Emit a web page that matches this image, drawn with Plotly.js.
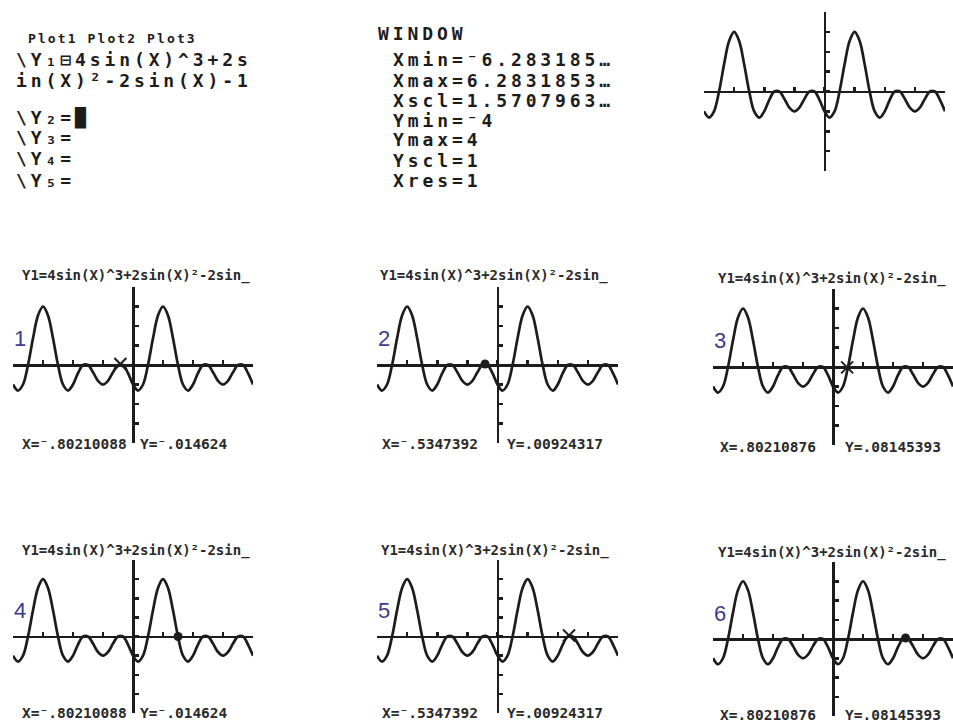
<!DOCTYPE html>
<html>
<head>
<meta charset="utf-8">
<script src="https://cdn.plot.ly/plotly-3.0.1.min.js"></script>
<style>
html,body{margin:0;padding:0;background:#fff;}
#chart{width:953px;height:725px;}
text.annotation-text[style*="font-size: 18px"]{letter-spacing:3.9px;}
text.annotation-text[style*="font-size: 13px"]{letter-spacing:2.1px;}
</style>
</head>
<body>
<div id="chart"></div>
<script>
// ---- data ----
const curveX = [-6.283,-6.021,-5.760,-5.498,-5.236,-4.974,-4.712,-4.451,-4.189,-3.927,-3.665,-3.403,-3.142,-2.880,-2.618,-2.356,-2.094,-1.833,-1.571,-1.309,-1.047,-0.785,-0.524,-0.262,
  0,0.262,0.524,0.785,1.047,1.309,1.571,1.833,2.094,2.356,2.618,2.880,3.142,3.403,3.665,3.927,4.189,4.451,4.712,4.974,5.236,5.498,5.760,6.021,6.283];
const curveY = [-1,-1.31,-1,0,1.37,2.54,3,2.54,1.37,0,-1,-1.31,-1,-0.42,0,0,-0.37,-0.81,-1,-0.81,-0.37,0,0,-0.42,
  -1,-1.31,-1,0,1.37,2.54,3,2.54,1.37,0,-1,-1.31,-1,-0.42,0,0,-0.37,-0.81,-1,-0.81,-0.37,0,0,-0.42,-1];

const xWindow = [-6.283185, 6.283185];
const yWindow = [-4, 4];
const xScl = 1.5707963;
const yScl = 1;

const panelNumbers = ['1','2','3','4','5','6'];
const cursorX = [-0.66, -0.65, 0.74, 2.36, 3.73, 3.80];
const cursorY = [0.05, 0.05, -0.02, 0.0, 0.05, 0.05];
const cursorKind = ['cross','dot','cross','dot','cross','dot'];

const graphTitle = 'Y1=4sin(X)^3+2sin(X)²-2sin_';
const traceXText = ['X=⁻.80210088','X=⁻.5347392','X=.80210876','X=⁻.80210088','X=⁻.5347392','X=.80210876'];
const traceYText = ['Y=⁻.014624','Y=.00924317','Y=.08145393','Y=⁻.014624','Y=.00924317','Y=.08145393'];

const plotHeader = 'Plot1 Plot2 Plot3';
const yEditLines = ['\\Y₁⊟4sin(X)^3+2s','in(X)²-2sin(X)-1','','\\Y₂=█','\\Y₃=','\\Y₄=','\\Y₅='];
const windowTitle = 'WINDOW';
const windowLines = ['Xmin=⁻6.283185…','Xmax=6.2831853…','Xscl=1.5707963…','Ymin=⁻4','Ymax=4','Yscl=1','Xres=1'];

// ---- layout (pixel boxes of each graph screen) ----
const W = 953, H = 725;
const fx = v => v / W;
const fy = v => 1 - v / H;
const boxes = [
  {x0:704, x1:945, y0:12,  y1:171},  // top-right
  {x0:13,  x1:253, y0:287, y1:443},
  {x0:377, x1:618, y0:287, y1:443},
  {x0:713, x1:953, y0:289, y1:445},
  {x0:13,  x1:253, y0:560, y1:713},
  {x0:377, x1:618, y0:560, y1:713},
  {x0:713, x1:953, y0:562, y1:716}
];
const titlePos = [[20,275],[378,275],[716,278],[20,550],[379,550],[716,552]];
const labelPos = [[20,138,444],[380,505,444],[718,843,447],[20,138,713],[380,505,713],[718,843,715]];

const ink = '#1c1c1c';
const monoFont = 'DejaVu Sans Mono';
const traces = [];
const layout = {
  width: W, height: H,
  margin: {l:0, r:0, t:0, b:0, pad:0},
  paper_bgcolor: '#ffffff', plot_bgcolor: 'rgba(0,0,0,0)',
  showlegend: false,
  annotations: [],
  font: {family: monoFont, color: ink}
};

boxes.forEach((b, i) => {
  const n = i + 1;
  const xa = 'x' + (n === 1 ? '' : n), ya = 'y' + (n === 1 ? '' : n);
  const xk = 'xaxis' + (n === 1 ? '' : n), yk = 'yaxis' + (n === 1 ? '' : n);
  const xc = (b.x0 + b.x1) / 2, yc = (b.y0 + b.y1) / 2;
  layout[xk] = {
    domain: [fx(b.x0), fx(b.x1)], range: xWindow, anchor: 'free', position: fy(yc),
    showline: true, linecolor: ink, linewidth: 2.5, ticks: 'inside', ticklen: 4, tickwidth: 2.5, tickcolor: ink,
    tick0: 0, dtick: xScl, showticklabels: false, showgrid: false, zeroline: false, fixedrange: true
  };
  layout[yk] = {
    domain: [fy(b.y1), fy(b.y0)], range: yWindow, anchor: 'free', position: fx(xc),
    showline: true, linecolor: ink, linewidth: 2.5, ticks: 'inside', ticklen: 4, tickwidth: 2.5, tickcolor: ink,
    tick0: 0, dtick: yScl, showticklabels: false, showgrid: false, zeroline: false, fixedrange: true
  };
  traces.push({
    type: 'scatter', mode: 'lines', x: curveX, y: curveY, xaxis: xa, yaxis: ya,
    line: {color: ink, width: 2.7, shape: 'spline', smoothing: 1}, hoverinfo: 'skip'
  });
  if (i > 0) {
    const k = i - 1;
    const isCross = cursorKind[k] === 'cross';
    traces.push({
      type: 'scatter', mode: 'markers', x: [cursorX[k]], y: [cursorY[k]], xaxis: xa, yaxis: ya,
      marker: isCross ? {symbol: 'x-thin-open', size: 12, line: {color: ink, width: 2}, color: ink}
                      : {symbol: 'circle', size: 9, color: ink},
      hoverinfo: 'skip', cliponaxis: false
    });
    layout.annotations.push({
      xref: xa, yref: ya, x: -5.9, y: 1.35, text: panelNumbers[k], showarrow: false,
      font: {family: 'Liberation Sans', size: 22, color: '#3c3c8e'}, xanchor: 'center', yanchor: 'middle'
    });
    layout.annotations.push({
      xref: 'paper', yref: 'paper', x: fx(titlePos[k][0]), y: fy(titlePos[k][1]), text: graphTitle,
      showarrow: false, xanchor: 'left', yanchor: 'middle',
      font: {family: monoFont, size: 14, weight: 'bold', color: '#2a2a2a'}
    });
    layout.annotations.push({
      xref: 'paper', yref: 'paper', x: fx(labelPos[k][0]), y: fy(labelPos[k][2]), text: traceXText[k],
      showarrow: false, xanchor: 'left', yanchor: 'middle',
      font: {family: monoFont, size: 14.5, weight: 'bold', color: '#2a2a2a'}
    });
    layout.annotations.push({
      xref: 'paper', yref: 'paper', x: fx(labelPos[k][1]), y: fy(labelPos[k][2]), text: traceYText[k],
      showarrow: false, xanchor: 'left', yanchor: 'middle',
      font: {family: monoFont, size: 14.5, weight: 'bold', color: '#2a2a2a'}
    });
  }
});

// Y= editor screen
layout.annotations.push({
  xref: 'paper', yref: 'paper', x: fx(26), y: fy(38), text: plotHeader, showarrow: false,
  xanchor: 'left', yanchor: 'middle', font: {family: monoFont, size: 13, weight: 'bold', color: ink}
});
const yEditY = [60, 80, 99, 118, 138, 158, 180];
yEditLines.forEach((t, i) => {
  if (!t) return;
  layout.annotations.push({
    xref: 'paper', yref: 'paper', x: fx(14), y: fy(yEditY[i]), text: t, showarrow: false,
    xanchor: 'left', yanchor: 'middle', font: {family: monoFont, size: 18, weight: 'bold', color: ink}
  });
});
// WINDOW screen
layout.annotations.push({
  xref: 'paper', yref: 'paper', x: fx(376), y: fy(33), text: windowTitle, showarrow: false,
  xanchor: 'left', yanchor: 'middle', font: {family: monoFont, size: 18, weight: 'bold', color: ink}
});
windowLines.forEach((t, i) => {
  layout.annotations.push({
    xref: 'paper', yref: 'paper', x: fx(391), y: fy(60 + 20 * i), text: t, showarrow: false,
    xanchor: 'left', yanchor: 'middle', font: {family: monoFont, size: 18, weight: 'bold', color: ink}
  });
});

Plotly.newPlot('chart', traces, layout, {staticPlot: true, displayModeBar: false});
</script>
</body>
</html>
